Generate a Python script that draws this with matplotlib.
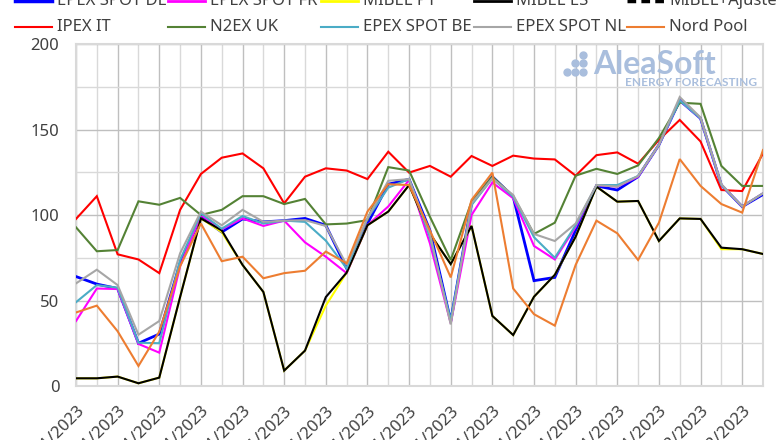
import matplotlib.pyplot as plt
from matplotlib.lines import Line2D
import numpy as np

plt.rcParams['font.family'] = ['Noto Sans', 'DejaVu Sans']

#%% data (daily prices, EUR/MWh)
x_labels = ['01/11/2023', '03/11/2023', '05/11/2023', '07/11/2023', '09/11/2023',
            '11/11/2023', '13/11/2023', '15/11/2023', '17/11/2023', '19/11/2023',
            '21/11/2023', '23/11/2023', '25/11/2023', '27/11/2023', '29/11/2023',
            '01/12/2023', '03/12/2023']

epex_de = [64, 59.6, 57, 25, 30.4, 72, 99, 90, 97.7, 96, 96.7, 98, 94, 68.8, 95, 118, 120.9,
           91, 38, 106.8, 122.4, 110.7, 61.6, 63.5, 91, 117, 114.6, 122.4, 141, 167, 156.5, 117.5, 104.9, 112]
epex_fr = [38, 57, 56.7, 24.6, 19.5, 70, 100, 91.6, 98, 93.6, 96.7, 84, 75.6, 66, 94, 105, 120.5,
           83.4, 36.6, 100, 119, 109.8, 81.9, 74, 93, 117.5, 116.6, 122.4, 141, 167, 156.5, 117.5, 105, 112.7]
mibel_pt = [4.5, 4.5, 5.5, 1.6, 4.9, 52, 98, 90, 70.8, 55, 9, 20.7, 47, 66.3, 94, 102, 117.5,
            89, 71.3, 93.6, 41, 29.8, 52.2, 65, 87.3, 116.6, 107.8, 108.2, 84.8, 98, 97.7, 80, 80, 77.2]
mibel_es = [4.5, 4.5, 5.5, 1.6, 4.9, 52, 98, 91, 70.8, 55, 9, 20.7, 52, 66.3, 94, 102, 117.5,
            89, 71.3, 93.6, 41, 29.8, 52.2, 65, 87.3, 116.6, 107.8, 108.2, 84.8, 98, 97.7, 80.9, 80, 77.2]
mibel_ajuste = []
ipex_it = [97.7, 111, 77, 74, 66, 103, 124, 133.5, 136, 127.3, 106.8, 122.4, 127.3, 126, 121, 137, 124.8,
           128.7, 122.4, 134.5, 128.7, 134.7, 133, 132.5, 123, 135, 136.6, 130, 143.9, 155.6, 143, 114.6, 114, 136]
n2ex_uk = [92.8, 78.8, 79.5, 108, 106, 110, 100, 103, 111, 111, 106.4, 109.4, 94.5, 95, 97, 128, 126,
           99, 73.7, 107.8, 122.4, 111, 88.9, 95.5, 123, 127, 124, 129, 145, 165.7, 165, 128.7, 117, 117]
epex_be = [49, 59, 57.5, 25.3, 25, 73.7, 101, 92, 99.4, 95, 96.7, 96, 85, 68.8, 98, 116, 121,
           87, 38.6, 105.8, 121.4, 110.7, 87, 75, 94, 117.5, 117.5, 122.8, 141, 167, 156.5, 117.5, 105, 112.7]
epex_nl = [60, 68, 59, 30, 38, 77.6, 102, 94, 103, 96, 96.7, 97, 93.6, 70.8, 98, 120, 121,
           89, 36, 106.8, 121.4, 111.7, 88.9, 84.8, 95, 117.5, 116.6, 122.8, 141, 169, 157, 118, 105, 112.7]
nord_pool = [43, 47, 32, 11.7, 31.8, 70, 95, 73, 75.6, 63, 66, 67.4, 78.6, 71.7, 102, 118, 117.5,
             91, 63.5, 108.8, 124.8, 57, 42, 35.3, 70.8, 96.7, 89.3, 73.7, 95.5, 132.7, 117, 106.4, 101.4, 138]

names = ['EPEX SPOT DE', 'EPEX SPOT FR', 'MIBEL PT', 'MIBEL ES', 'MIBEL+Ajuste',
         'IPEX IT', 'N2EX UK', 'EPEX SPOT BE', 'EPEX SPOT NL', 'Nord Pool']
series = [epex_de, epex_fr, mibel_pt, mibel_es, mibel_ajuste,
          ipex_it, n2ex_uk, epex_be, epex_nl, nord_pool]
colors = ['#0000FF', '#FF00FF', '#FFFF00', '#000000', '#000000',
          '#FF0000', '#548235', '#4BACC6', '#A6A6A6', '#ED7D31']
widths = [2.0, 1.5, 1.5, 1.5, 2.0, 1.5, 1.5, 1.5, 1.5, 1.5]
styles = ['-', '-', '-', '-', (0, (2.5, 1.5)), '-', '-', '-', '-', '-']

#%% figure
W, H = 780, 440
fig = plt.figure(figsize=(W / 100, H / 100), dpi=100)
ax = fig.add_axes([76 / W, 1 - 386 / H, (763 - 76) / W, (386 - 44) / H])

for k in range(len(series)):
    vals = series[k]
    ax.plot(np.arange(len(vals)), vals, color=colors[k], lw=widths[k], ls=styles[k],
            solid_joinstyle='miter', zorder=3)

ax.set_xlim(0, 33)
ax.set_ylim(0, 200)
ax.set_xticks(np.arange(0, 34, 2))
ax.set_xticks(np.arange(1, 34, 2), minor=True)
ax.set_xticklabels(x_labels, rotation=45, ha='right', va='top', rotation_mode='anchor')
ax.set_yticks([0, 50, 100, 150, 200])
ax.set_yticks([25, 75, 125, 175], minor=True)
ax.tick_params(which='both', length=0, labelsize=12, colors='#404040')
ax.tick_params(axis='y', pad=12)
ax.tick_params(axis='x', pad=12)

ax.grid(which='major', color='#BFBFBF', lw=1.0, zorder=0)
ax.grid(which='minor', color='#D9D9D9', lw=1.0, zorder=0)
for s in ax.spines.values():
    s.set_color('#D9D9D9')
    s.set_linewidth(1.5)

#%% legend (two rows, partly cut at top)
for k, name in enumerate(names):
    row, col = k // 5, k % 5
    x0 = (15 + col * 153) / W
    yy = 1 - (1 + row * 26) / H
    lw = widths[k] + 0.5 if row == 0 else widths[k]
    fig.add_artist(Line2D([x0, x0 + 37 / W], [yy, yy], transform=fig.transFigure,
                          color=colors[k], lw=lw, ls=styles[k]))
    fig.text(x0 + 42 / W, yy, name, fontsize=12, color='#404040', va='center', ha='left')

#%% watermark
wm = '#A9BEDD'
fig.text(593 / W, 1 - 64 / H, 'AleaSoft', fontsize=23, fontweight='bold', family='Lato',
         color=wm, va='center', ha='left')
fig.text(625 / W, 1 - 83 / H, 'ENERGY FORECASTING', fontsize=8.6, fontweight='bold',
         family='Lato', color=wm, va='center', ha='left')
dot_x = [583, 575, 583, 567, 575, 583]
dot_y = [55, 63, 63, 72, 72, 72]
fig.add_artist(Line2D(np.array(dot_x) / W, 1 - np.array(dot_y) / H, transform=fig.transFigure,
                      ls='none', marker='o', ms=5, color=wm))

fig.savefig('out.png', dpi=100)
